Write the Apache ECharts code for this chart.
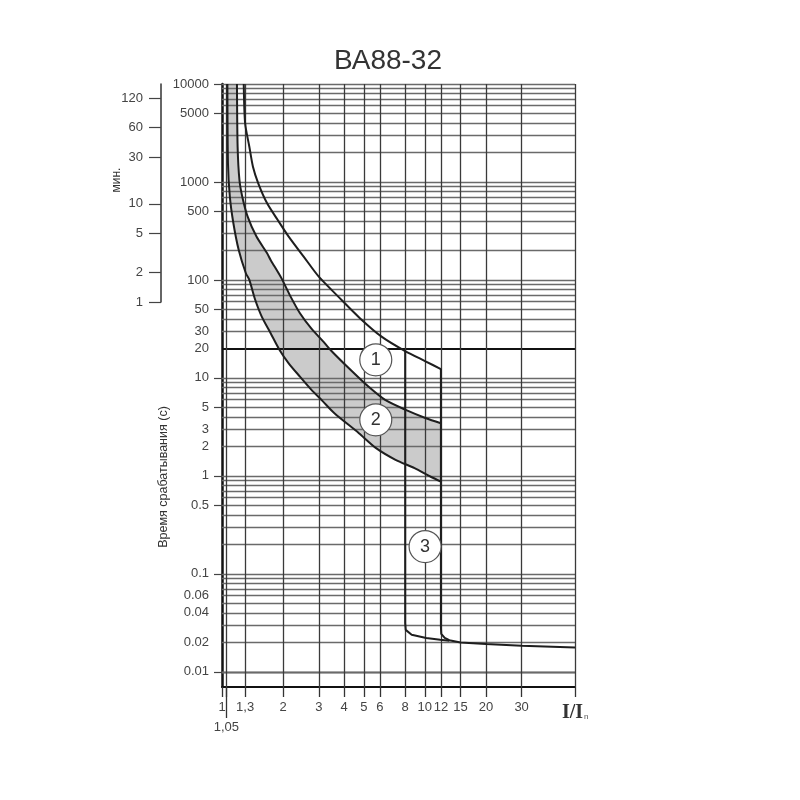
<!DOCTYPE html>
<html><head><meta charset="utf-8">
<script src="https://cdn.jsdelivr.net/npm/echarts@6/dist/echarts.min.js"></script>
<style>html,body{margin:0;padding:0;background:#fff}#c{width:800px;height:800px}</style>
</head><body><div id="c"></div>
<script>
const titleText = 'ВА88-32';
const yAxisTitle = 'Время срабатывания (с)';
const minuteTitle = 'мин.';

// tick labels
const xTickLabels = [1, 1.3, 2, 3, 4, 5, 6, 8, 10, 12, 15, 20, 30];
const xLowLabels = [1.05];
const xTickMarks = [1, 1.05, 1.3, 2, 3, 4, 5, 6, 8, 10, 12, 15, 20, 30, 55];
const xGridValues = [1.05, 1.3, 2, 3, 4, 5, 6, 8, 10, 12, 15, 20, 30, 55];
const yLabelValues = [0.01, 0.02, 0.04, 0.06, 0.1, 0.5, 1, 2, 3, 5, 10, 20, 30, 50, 100, 500, 1000, 5000, 10000];
const yTickValues = [0.01, 0.1, 0.5, 1, 5, 10, 50, 100, 500, 1000, 5000, 10000];
const minuteLabels = [1, 2, 5, 10, 30, 60, 120];
const gridDecades = [0.001, 0.01, 0.1, 1, 10, 100, 1000];
const gridMantissas = [1, 2, 3, 4, 5, 6, 7, 8, 9];

// curve 1 (upper limit)
const c1I = [1.28, 1.30, 1.364, 1.421, 1.509, 1.669, 1.883, 2.132, 2.527, 3.0, 3.743, 4.8, 6.12, 8.0, 10.13, 12];
const c1T = [10000, 3972, 2291, 1432, 970, 606, 409, 277, 173, 108, 67.6, 40.5, 26.4, 18.8, 14.7, 12.3];
// curve 2 (middle)
const c2I = [1.185, 1.194, 1.219, 1.259, 1.338, 1.479, 1.669, 1.737, 1.96, 2.179, 2.423, 2.754, 3.135, 3.428, 4.30, 5.27, 6.37, 8.05, 10.13, 12];
const c2T = [10000, 2291, 1048, 708, 443, 277, 187, 160, 105, 67.6, 45.7, 32, 23.9, 19.3, 12.1, 8.15, 5.96, 4.72, 3.88, 3.45];
// curve 3 (lower)
const c3I = [1.063, 1.07, 1.093, 1.138, 1.209, 1.311, 1.364, 1.449, 1.570, 1.737, 1.922, 2.132, 2.423, 2.754, 3.135, 3.583, 4.73, 5.75, 7.17, 8.90, 10.69, 12];
const c3T = [10000, 1552, 708, 379, 202, 117, 100, 65, 42.2, 28.6, 19.3, 14.1, 10.3, 7.6, 5.8, 4.36, 2.73, 1.92, 1.46, 1.20, 0.98, 0.875];
// instantaneous release lines
const t12I = [12, 12, 12.05, 12.53, 13.2, 15, 20, 30, 55];
const t12T = [12.3, 0.029, 0.0244, 0.0222, 0.0210, 0.0199, 0.0192, 0.0185, 0.0177];
const t8I = [8, 8, 8.05, 8.61, 10.16, 11.9, 13.2];
const t8T = [18.8, 0.0314, 0.0268, 0.0239, 0.0221, 0.0212, 0.0208];
// circle markers
const markerNames = ['1', '2', '3'];
const markerI = [5.73, 5.73, 10.03];
const markerT = [15.3, 3.73, 0.19];

const zip = (a, b) => a.map((v, i) => [v, b[i]]);
const fmtNum = v => String(+Number(v).toPrecision(6));

const hLines = [];
gridDecades.forEach(d => gridMantissas.forEach(m => {
  const v = +(d * m).toPrecision(6);
  if (v > 0.007 && v < 10000) hLines.push(v);
}));
hLines.push(10000);

const markData = [];
hLines.forEach(v => markData.push({yAxis: v, lineStyle: v === 20 ? {color: '#111', width: 1.8, type: 'solid'} : {color: '#6a6a6a', width: 1.3, type: 'solid'}}));
xGridValues.forEach(v => markData.push({xAxis: v, lineStyle: {color: '#3a3a3a', width: 1.3, type: 'solid'}}));

const FONT = 'Liberation Sans, Arial, sans-serif';
const chart = echarts.init(document.getElementById('c'), null, {renderer: 'canvas'});
chart.setOption({
  animation: false,
  backgroundColor: '#fff',
  textStyle: {fontFamily: FONT},
  grid: [
    {left: 222, right: 225, top: 84, bottom: 113, containLabel: false},
    {left: 161, width: 5, top: 84, height: 218, containLabel: false}
  ],
  graphic: [
    {type: 'text', x: 388, y: 61, z: 10, style: {text: titleText, fontSize: 28, fill: '#333', textAlign: 'center', textVerticalAlign: 'middle', fontFamily: FONT}},
    {type: 'text', x: 164, y: 477, rotation: Math.PI / 2, style: {text: yAxisTitle, fontSize: 12.5, fill: '#333', textAlign: 'center', textVerticalAlign: 'middle', fontFamily: FONT}},
    {type: 'text', x: 117, y: 180, rotation: Math.PI / 2, style: {text: minuteTitle, fontSize: 12, fill: '#333', textAlign: 'center', textVerticalAlign: 'middle', fontFamily: FONT}},
    {type: 'text', x: 562, y: 723, style: {text: '{a|I/I}{b|n}', textVerticalAlign: 'bottom', rich: {a: {fontFamily: 'Liberation Serif, Times New Roman, serif', fontWeight: 'bold', fontSize: 20, fill: '#333'}, b: {fontFamily: FONT, fontSize: 8, fill: '#555', padding: [8, 0, 0, 1]}}}}
  ],
  xAxis: [
    {gridIndex: 0, type: 'log', logBase: 10, min: 1, max: 55,
     axisLine: {show: true, onZero: false, lineStyle: {color: '#111', width: 2}},
     axisTick: {show: true, customValues: xTickMarks, length: 10, lineStyle: {color: '#333', width: 1.3}},
     axisLabel: {show: true, customValues: xTickLabels, color: '#444', fontSize: 13, margin: 14, hideOverlap: false, showMinLabel: true,
       formatter: v => fmtNum(v).replace('.', ',')},
     splitLine: {show: false}, minorTick: {show: false}, minorSplitLine: {show: false}},
    {gridIndex: 0, type: 'log', logBase: 10, min: 1, max: 55, position: 'bottom',
     axisLine: {show: false}, axisTick: {show: true, customValues: xTickMarks.filter(v => v === 1.05), length: 31, lineStyle: {color: '#333', width: 1.3}},
     axisLabel: {show: true, customValues: xLowLabels, color: '#444', fontSize: 13, margin: 34, formatter: v => fmtNum(v).replace('.', ',')},
     splitLine: {show: false}},
    {gridIndex: 1, type: 'value', show: false}
  ],
  yAxis: [
    {gridIndex: 0, type: 'log', logBase: 10, min: 0.007, max: 10000,
     axisLine: {show: true, onZero: false, lineStyle: {color: '#111', width: 2.5}},
     axisTick: {show: true, customValues: yTickValues, length: 8, lineStyle: {color: '#444', width: 1.2}},
     axisLabel: {show: true, customValues: yLabelValues, color: '#444', fontSize: 13, margin: 13, formatter: v => fmtNum(v)},
     splitLine: {show: false}, minorTick: {show: false}},
    {gridIndex: 1, type: 'log', logBase: 10, min: 1, max: 10000 / 60,
     axisLine: {show: true, onZero: false, lineStyle: {color: '#333', width: 1.5}},
     axisTick: {show: true, customValues: minuteLabels, length: 12, lineStyle: {color: '#444', width: 1.2}},
     axisLabel: {show: true, customValues: minuteLabels, color: '#444', fontSize: 13, margin: 18, formatter: v => fmtNum(v)},
     splitLine: {show: false}}
  ],
  series: [
    {type: 'custom', name: 'zone', xAxisIndex: 0, yAxisIndex: 0, z: 1, silent: true,
     data: [[2, 10]],
     renderItem: (params, api) => {
       const pts = [];
       for (let i = 0; i < c2I.length; i++) pts.push(api.coord([c2I[i], c2T[i]]));
       for (let i = c3I.length - 1; i >= 0; i--) pts.push(api.coord([c3I[i], c3T[i]]));
       return {type: 'polygon', shape: {points: pts, smooth: 0}, style: {fill: '#cbcbcb', stroke: null}};
     }},
    {type: 'line', name: 'grid', xAxisIndex: 0, yAxisIndex: 0, z: 2, data: [[1, 1]], symbol: 'none', lineStyle: {opacity: 0}, silent: true,
     markLine: {z: 2, silent: true, symbol: ['none', 'none'], label: {show: false}, animation: false, data: markData}},
    {type: 'line', name: 'c1', z: 3, data: zip(c1I, c1T), symbol: 'none', smooth: 0.25, lineStyle: {color: '#1e1e1e', width: 2}},
    {type: 'line', name: 'c2', z: 3, data: zip(c2I, c2T), symbol: 'none', smooth: 0.25, lineStyle: {color: '#1e1e1e', width: 2}},
    {type: 'line', name: 'c3', z: 3, data: zip(c3I, c3T), symbol: 'none', smooth: 0.25, lineStyle: {color: '#1e1e1e', width: 2}},
    {type: 'line', name: 't12', z: 3, data: zip(t12I, t12T), symbol: 'none', lineStyle: {color: '#1e1e1e', width: 2}},
    {type: 'line', name: 't8', z: 3, data: zip(t8I, t8T), symbol: 'none', lineStyle: {color: '#1e1e1e', width: 2}},
    {type: 'scatter', name: 'markers', z: 6, symbol: 'circle', symbolSize: 32,
     data: markerNames.map((n, i) => ({value: [markerI[i], markerT[i]], name: n})),
     itemStyle: {color: '#fff', borderColor: '#555', borderWidth: 1.2, opacity: 1},
     label: {show: true, position: 'inside', formatter: p => p.name, color: '#333', fontSize: 18, fontFamily: FONT}}
  ]
});
</script></body></html>
